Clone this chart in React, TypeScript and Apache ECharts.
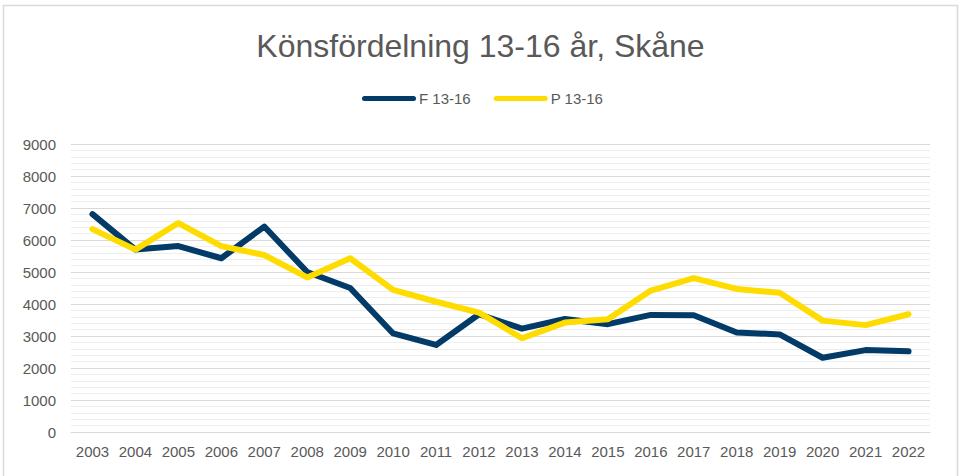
import React, { useEffect, useRef } from "react";
import * as echarts from "echarts";

const years = ["2003","2004","2005","2006","2007","2008","2009","2010","2011","2012","2013","2014","2015","2016","2017","2018","2019","2020","2021","2022"];
const seriesF = [6810, 5700, 5810, 5430, 6420, 5000, 4500, 3080, 2720, 3680, 3230, 3530, 3370, 3660, 3650, 3110, 3050, 2320, 2560, 2520];
const seriesP = [6340, 5700, 6530, 5810, 5530, 4830, 5430, 4440, 4070, 3730, 2930, 3420, 3520, 4420, 4810, 4470, 4350, 3480, 3340, 3680];
const yTicks = { min: 0, max: 9000, interval: 1000 };
const titleText = "Könsfördelning 13-16 år, Skåne";
const nameF = "F 13-16";
const nameP = "P 13-16";

const FONT = "'Liberation Sans', Arial, sans-serif";
const TEXT = "#595959";
const BLUE = "#023a68";
const YELLOW = "#ffdc00";
const LEG_ICON = "path://M2.5,0H51.5A2.5,2.5,0,0,1,51.5,5H2.5A2.5,2.5,0,0,1,2.5,0Z";

export default function App() {
  const ref = useRef<HTMLDivElement>(null);
  useEffect(() => {
    if (!ref.current) return;
    const chart = echarts.init(ref.current, null, { renderer: "svg" });
    chart.setOption({
      animation: false,
      backgroundColor: "#ffffff",
      title: {
        text: titleText,
        left: "center",
        top: 25,
        textStyle: { fontFamily: FONT, fontSize: 32, fontWeight: "normal", color: TEXT },
      },
      legend: {
        left: 357,
        top: 86,
        itemWidth: 54,
        itemHeight: 5,
        itemGap: 23,
        icon: LEG_ICON,
        textStyle: { fontFamily: FONT, fontSize: 15, color: TEXT, padding: [0, 0, 0, -2] },
        data: [nameF, nameP],
      },
      grid: { left: 71, right: 31, top: 144, bottom: 44 },
      xAxis: {
        type: "category",
        data: years,
        boundaryGap: true,
        axisLine: { show: true, lineStyle: { color: "#d9d9d9", width: 1 } },
        axisTick: { show: false },
        axisLabel: { fontFamily: FONT, fontSize: 15, color: TEXT, margin: 12, interval: 0 },
      },
      yAxis: {
        type: "value",
        min: yTicks.min,
        max: yTicks.max,
        interval: yTicks.interval,
        axisLine: { show: false },
        axisTick: { show: false },
        axisLabel: {
          fontFamily: FONT,
          fontSize: 15,
          color: TEXT,
          margin: 15,
          formatter: (v: number) => String(v),
        },
        splitLine: { show: true, lineStyle: { color: "#d9d9d9", width: 1 } },
        minorTick: { show: false, splitNumber: 5 },
        minorSplitLine: { show: true, lineStyle: { color: "#eeeeee", width: 1 } },
      },
      series: [
        {
          name: nameF,
          type: "line",
          data: seriesF,
          symbol: "none",
          color: BLUE,
          lineStyle: { color: BLUE, width: 6, cap: "round", join: "round" },
        },
        {
          name: nameP,
          type: "line",
          data: seriesP,
          symbol: "none",
          color: YELLOW,
          lineStyle: { color: YELLOW, width: 6, cap: "round", join: "round" },
        },
      ],
      graphic: [
        {
          type: "rect",
          shape: { x: 3.5, y: 5.5, width: 954, height: 500 },
          style: { fill: "none", stroke: "#d9d9d9", lineWidth: 1.5 },
          silent: true,
          z: 100,
        },
      ],
    });
    return () => chart.dispose();
  }, []);
  return (
    <div
      ref={ref}
      style={{ position: "fixed", left: 0, top: 0, width: 961, height: 476 }}
    />
  );
}
